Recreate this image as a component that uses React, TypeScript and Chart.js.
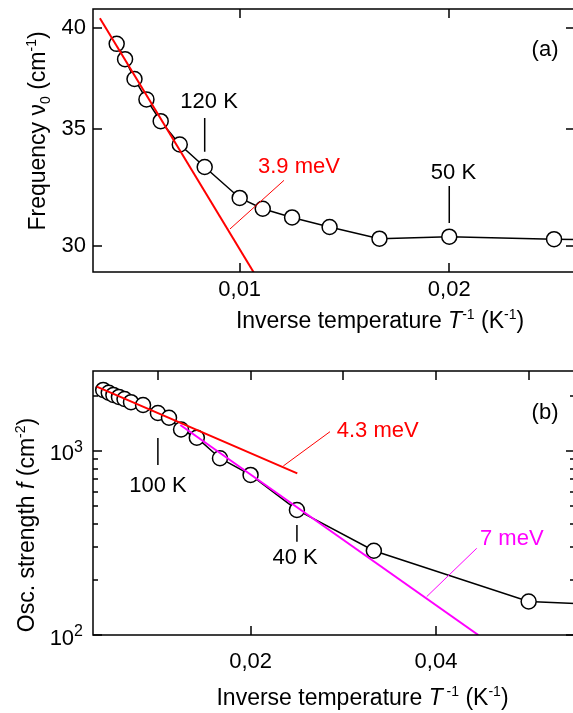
import React, { useEffect, useRef } from 'react';
import { Chart, registerables } from 'chart.js';
Chart.register(...registerables);

const FONT = '"Liberation Sans", Arial, Helvetica, sans-serif';
const RED = '#ff0000';
const MAGENTA = '#ff00ff';

// ---------- Panel (a): frequency vs inverse temperature ----------
const INV_T_A = [0.00413, 0.00453, 0.00498, 0.00555, 0.00623, 0.00714, 0.00833, 0.01, 0.0111, 0.0125, 0.01429, 0.01667, 0.02, 0.025, 0.0333];
const FREQ_A = [39.16, 38.38, 37.39, 36.4, 35.37, 34.3, 33.3, 31.97, 31.52, 31.16, 30.77, 30.3, 30.38, 30.28, 30.22];
const FIT_A_X = [0.00333, 0.01068];
const FIT_A_Y = [40.5, 28.97];
const X_TICKS_A = [0.01, 0.02];
const Y_TICKS_A = [30, 35, 40];

// ---------- Panel (b): oscillator strength vs inverse temperature ----------
const INV_T_B = [0.0041, 0.0047, 0.0052, 0.0058, 0.0064, 0.0071, 0.0084, 0.01, 0.0112, 0.0125, 0.0142, 0.0167, 0.02, 0.025, 0.0333, 0.05, 0.1];
const OSC_B = [2146, 2072, 2016, 1966, 1917, 1842, 1778, 1609, 1515, 1308, 1180, 913, 741, 478, 287, 152, 120];
const FIT_B1_X = [0.0034, 0.02504];
const FIT_B1_Y = [2236, 756];
const FIT_B2_X = [0.01242, 0.04457];
const FIT_B2_Y = [1384, 100];
const X_TICKS_B = [0.02, 0.04];
const X_TOP_TICKS_B = [0.01, 0.02, 0.03, 0.04, 0.05];
const Y_MAJOR_B = [100, 1000];
const Y_MAJOR_B_EXP = ['2', '3'];
const Y_MINOR_B = [200, 300, 400, 500, 600, 700, 800, 900, 2000];

type Seg = { t: string; it?: boolean; sup?: boolean; sub?: boolean };
type Label = { text: string; x: number; y: number; color: string; align: CanvasTextAlign };
type Pointer = { x: number[]; y: number[]; color: string; width: number };

function segFont(s: Seg, size: number, supScale: number) {
  return `${s.it ? 'italic ' : ''}${s.sup || s.sub ? Math.round(size * supScale) : size}px ${FONT}`;
}

function drawRich(ctx: CanvasRenderingContext2D, segs: Seg[], ax: number, baseline: number, size: number,
  align: 'center' | 'right' = 'center', supScale = 0.62, supRise = 0.4) {
  let w = 0;
  for (const s of segs) { ctx.font = segFont(s, size, supScale); w += ctx.measureText(s.t).width; }
  let x = align === 'center' ? ax - w / 2 : ax - w;
  ctx.textAlign = 'left';
  ctx.textBaseline = 'alphabetic';
  for (const s of segs) {
    ctx.font = segFont(s, size, supScale);
    const dy = s.sup ? -size * supRise : s.sub ? size * 0.22 : 0;
    ctx.fillText(s.t, x, baseline + dy);
    x += ctx.measureText(s.t).width;
  }
}

type PanelCfg = {
  height: number;
  padTop: number;
  xHeight: number;
  xMin: number; xMax: number;
  yMin: number; yMax: number;
  xTicks: number[]; xTopTicks: number[];
  yTicks: number[]; yMinor: number[];
  yRich?: Seg[][];
  majorLen: number; minorLen: number;
  xFmt: (v: number) => string;
  yFmt: (v: number) => string;
  xLabelPad: number; yLabelPad: number;
  data: { x: number[]; y: number[] };
  fits: { x: number[]; y: number[]; color: string }[];
  pointers: Pointer[];
  labels: Label[];
  xTitle: Seg[]; xTitlePos: [number, number];
  yTitle: Seg[]; yTitlePos: [number, number];
};

const toPts = (xs: number[], ys: number[]) => xs.map((x, i) => ({ x, y: ys[i] }));

function makeFrame(cfg: PanelCfg) {
  return {
    id: 'frame',
    afterDatasetsDraw(chart: any) {
      const { ctx, chartArea: a, scales } = chart;
      const xs = scales.x, ys = scales.y;
      ctx.save();
      ctx.strokeStyle = '#000';
      ctx.lineWidth = 1.5;
      ctx.strokeRect(a.left, a.top, a.right - a.left, a.bottom - a.top);
      ctx.beginPath();
      for (const v of cfg.xTicks) {
        const p = Math.round(xs.getPixelForValue(v));
        ctx.moveTo(p, a.bottom); ctx.lineTo(p, a.bottom - cfg.majorLen);
      }
      for (const v of cfg.xTopTicks) {
        const p = Math.round(xs.getPixelForValue(v));
        ctx.moveTo(p, a.top); ctx.lineTo(p, a.top + cfg.majorLen);
      }
      for (const v of cfg.yTicks) {
        const p = Math.round(ys.getPixelForValue(v));
        ctx.moveTo(a.left, p); ctx.lineTo(a.left + cfg.majorLen, p);
        ctx.moveTo(a.right, p); ctx.lineTo(a.right - cfg.majorLen, p);
      }
      for (const v of cfg.yMinor) {
        const p = Math.round(ys.getPixelForValue(v));
        ctx.moveTo(a.left, p); ctx.lineTo(a.left + cfg.minorLen, p);
        ctx.moveTo(a.right, p); ctx.lineTo(a.right - cfg.minorLen, p);
      }
      ctx.stroke();

      ctx.fillStyle = '#000';
      if (cfg.yRich) {
        cfg.yTicks.forEach((v, i) => {
          const p = ys.getPixelForValue(v);
          drawRich(ctx, cfg.yRich![i], a.left - cfg.yLabelPad, p + 9.5, 22, 'right', 0.74, 0.38);
        });
      }

      ctx.textBaseline = 'middle';
      for (const l of cfg.labels) {
        ctx.fillStyle = l.color;
        ctx.font = `22px ${FONT}`;
        ctx.textAlign = l.align;
        ctx.fillText(l.text, xs.getPixelForValue(l.x), ys.getPixelForValue(l.y));
      }

      ctx.fillStyle = '#000';
      drawRich(ctx, cfg.xTitle, cfg.xTitlePos[0], cfg.xTitlePos[1], 23);
      ctx.save();
      ctx.translate(cfg.yTitlePos[0], cfg.yTitlePos[1]);
      ctx.rotate(-Math.PI / 2);
      drawRich(ctx, cfg.yTitle, 0, 0, 23);
      ctx.restore();
      ctx.restore();
    },
  };
}

function buildConfig(cfg: PanelCfg, logY: boolean): any {
  const datasets: any[] = [];
  cfg.fits.forEach((f) => datasets.push({
    data: toPts(f.x, f.y), borderColor: f.color, borderWidth: 2, pointRadius: 0, order: 1,
  }));
  cfg.pointers.forEach((p) => datasets.push({
    data: toPts(p.x, p.y), borderColor: p.color, borderWidth: p.width, pointRadius: 0, order: 1,
  }));
  datasets.push({
    data: toPts(cfg.data.x, cfg.data.y),
    borderColor: '#000', borderWidth: 1.5,
    pointRadius: 7.5, pointBackgroundColor: '#fff', pointBorderColor: '#000', pointBorderWidth: 1.5,
    order: 2,
  });
  const zeroPad = (s: any) => { s.paddingTop = 0; s.paddingBottom = 0; s.paddingLeft = 0; s.paddingRight = 0; };
  return {
    type: 'line',
    data: { datasets },
    plugins: [makeFrame(cfg)],
    options: {
      animation: false,
      responsive: false,
      devicePixelRatio: 1,
      layout: { padding: { top: cfg.padTop, right: 25, left: 0, bottom: 0 } },
      plugins: { legend: { display: false }, tooltip: { enabled: false } },
      elements: { line: { tension: 0 } },
      scales: {
        x: {
          type: 'linear', position: 'bottom', min: cfg.xMin, max: cfg.xMax,
          grid: { display: false, drawTicks: false }, border: { display: false },
          afterBuildTicks: (s: any) => { s.ticks = cfg.xTicks.map((v) => ({ value: v })); },
          afterFit: (s: any) => { s.height = cfg.xHeight; zeroPad(s); },
          ticks: {
            autoSkip: false, maxRotation: 0, padding: cfg.xLabelPad, color: '#000',
            font: { family: FONT, size: 22 },
            callback: (v: any) => cfg.xFmt(Number(v)),
          },
        },
        y: {
          type: logY ? 'logarithmic' : 'linear', position: 'left', min: cfg.yMin, max: cfg.yMax,
          grid: { display: false, drawTicks: false }, border: { display: false },
          afterBuildTicks: (s: any) => { s.ticks = cfg.yTicks.map((v) => ({ value: v })); },
          afterFit: (s: any) => { s.width = 93; zeroPad(s); },
          ticks: {
            display: !cfg.yRich,
            autoSkip: false, padding: cfg.yLabelPad, color: '#000',
            font: { family: FONT, size: 22 },
            callback: (v: any) => cfg.yFmt(Number(v)),
          },
        },
      },
    },
  };
}

const PANEL_A: PanelCfg = {
  height: 345, padTop: 9, xHeight: 73,
  xMin: 0.003, xMax: 0.026, yMin: 29, yMax: 41,
  xTicks: X_TICKS_A, xTopTicks: X_TICKS_A, yTicks: Y_TICKS_A, yMinor: [],
  majorLen: 9, minorLen: 5,
  xFmt: (v) => v.toFixed(2).replace('.', ','),
  yFmt: (v) => String(v),
  xLabelPad: 5, yLabelPad: 7,
  data: { x: INV_T_A, y: FREQ_A },
  fits: [{ x: FIT_A_X, y: FIT_A_Y, color: RED }],
  pointers: [
    { x: [0.00833, 0.00833], y: [35.52, 33.97], color: '#000', width: 1.5 },
    { x: [0.02, 0.02], y: [32.48, 30.93], color: '#000', width: 1.5 },
    { x: [0.009537, 0.012114], y: [30.69, 32.72], color: RED, width: 1 },
  ],
  labels: [
    { text: '120 K', x: 0.00854, y: 36.28, color: '#000', align: 'center' },
    { text: '3.9 meV', x: 0.010873, y: 33.3, color: RED, align: 'left' },
    { text: '50 K', x: 0.0202, y: 33.04, color: '#000', align: 'center' },
    { text: '(a)', x: 0.02457, y: 38.85, color: '#000', align: 'center' },
  ],
  xTitle: [{ t: 'Inverse temperature ' }, { t: 'T', it: true }, { t: '-1', sup: true }, { t: ' (K' }, { t: '-1', sup: true }, { t: ')' }],
  xTitlePos: [380, 328],
  yTitle: [{ t: 'Frequency ν' }, { t: '0', sub: true }, { t: ' (cm' }, { t: '-1', sup: true }, { t: ')' }],
  yTitlePos: [45, 131],
};

const PANEL_B: PanelCfg = {
  height: 368, padTop: 26, xHeight: 78,
  xMin: 0.003, xMax: 0.055, yMin: 100, yMax: 2720,
  xTicks: X_TICKS_B, xTopTicks: X_TOP_TICKS_B, yTicks: Y_MAJOR_B, yMinor: Y_MINOR_B,
  yRich: Y_MAJOR_B_EXP.map((e) => [{ t: '10' }, { t: e, sup: true }]),
  majorLen: 9, minorLen: 5,
  xFmt: (v) => v.toFixed(2).replace('.', ','),
  yFmt: (v) => String(v),
  xLabelPad: 14, yLabelPad: 10,
  data: { x: INV_T_B, y: OSC_B },
  fits: [
    { x: FIT_B1_X, y: FIT_B1_Y, color: RED },
    { x: FIT_B2_X, y: FIT_B2_Y, color: MAGENTA },
  ],
  pointers: [
    { x: [0.01, 0.01], y: [1177, 839], color: '#000', width: 1.5 },
    { x: [0.025, 0.025], y: [396, 321], color: '#000', width: 1.5 },
    { x: [0.02353, 0.02857], y: [829, 1273], color: RED, width: 1 },
    { x: [0.039, 0.0444], y: [161.6, 296], color: MAGENTA, width: 1 },
  ],
  labels: [
    { text: '100 K', x: 0.01001, y: 645, color: '#000', align: 'center' },
    { text: '40 K', x: 0.0248, y: 262, color: '#000', align: 'center' },
    { text: '4.3 meV', x: 0.02929, y: 1284, color: RED, align: 'left' },
    { text: '7 meV', x: 0.04475, y: 332, color: MAGENTA, align: 'left' },
    { text: '(b)', x: 0.05177, y: 1609, color: '#000', align: 'center' },
  ],
  xTitle: [{ t: 'Inverse temperature ' }, { t: 'T', it: true }, { t: ' -1', sup: true }, { t: ' (K' }, { t: '-1', sup: true }, { t: ')' }],
  xTitlePos: [362.5, 360],
  yTitle: [{ t: 'Osc. strength ' }, { t: 'f', it: true }, { t: ' (cm' }, { t: '-2', sup: true }, { t: ')' }],
  yTitlePos: [34, 180],
};

function Panel({ cfg, logY, top }: { cfg: PanelCfg; logY: boolean; top: number }) {
  const ref = useRef<HTMLCanvasElement>(null);
  useEffect(() => {
    if (!ref.current) return;
    const chart = new Chart(ref.current, buildConfig(cfg, logY));
    return () => chart.destroy();
  }, [cfg, logY]);
  return (
    <div style={{ position: 'absolute', left: 0, top, width: 600, height: cfg.height }}>
      <canvas ref={ref} width={600} height={cfg.height} style={{ width: 600, height: cfg.height, display: 'block' }} />
    </div>
  );
}

export default function App() {
  return (
    <div style={{ position: 'fixed', left: 0, top: 0, width: 573, height: 713, overflow: 'hidden', background: '#fff' }}>
      <Panel cfg={PANEL_A} logY={true} top={0} />
      <Panel cfg={PANEL_B} logY={true} top={345} />
    </div>
  );
}
